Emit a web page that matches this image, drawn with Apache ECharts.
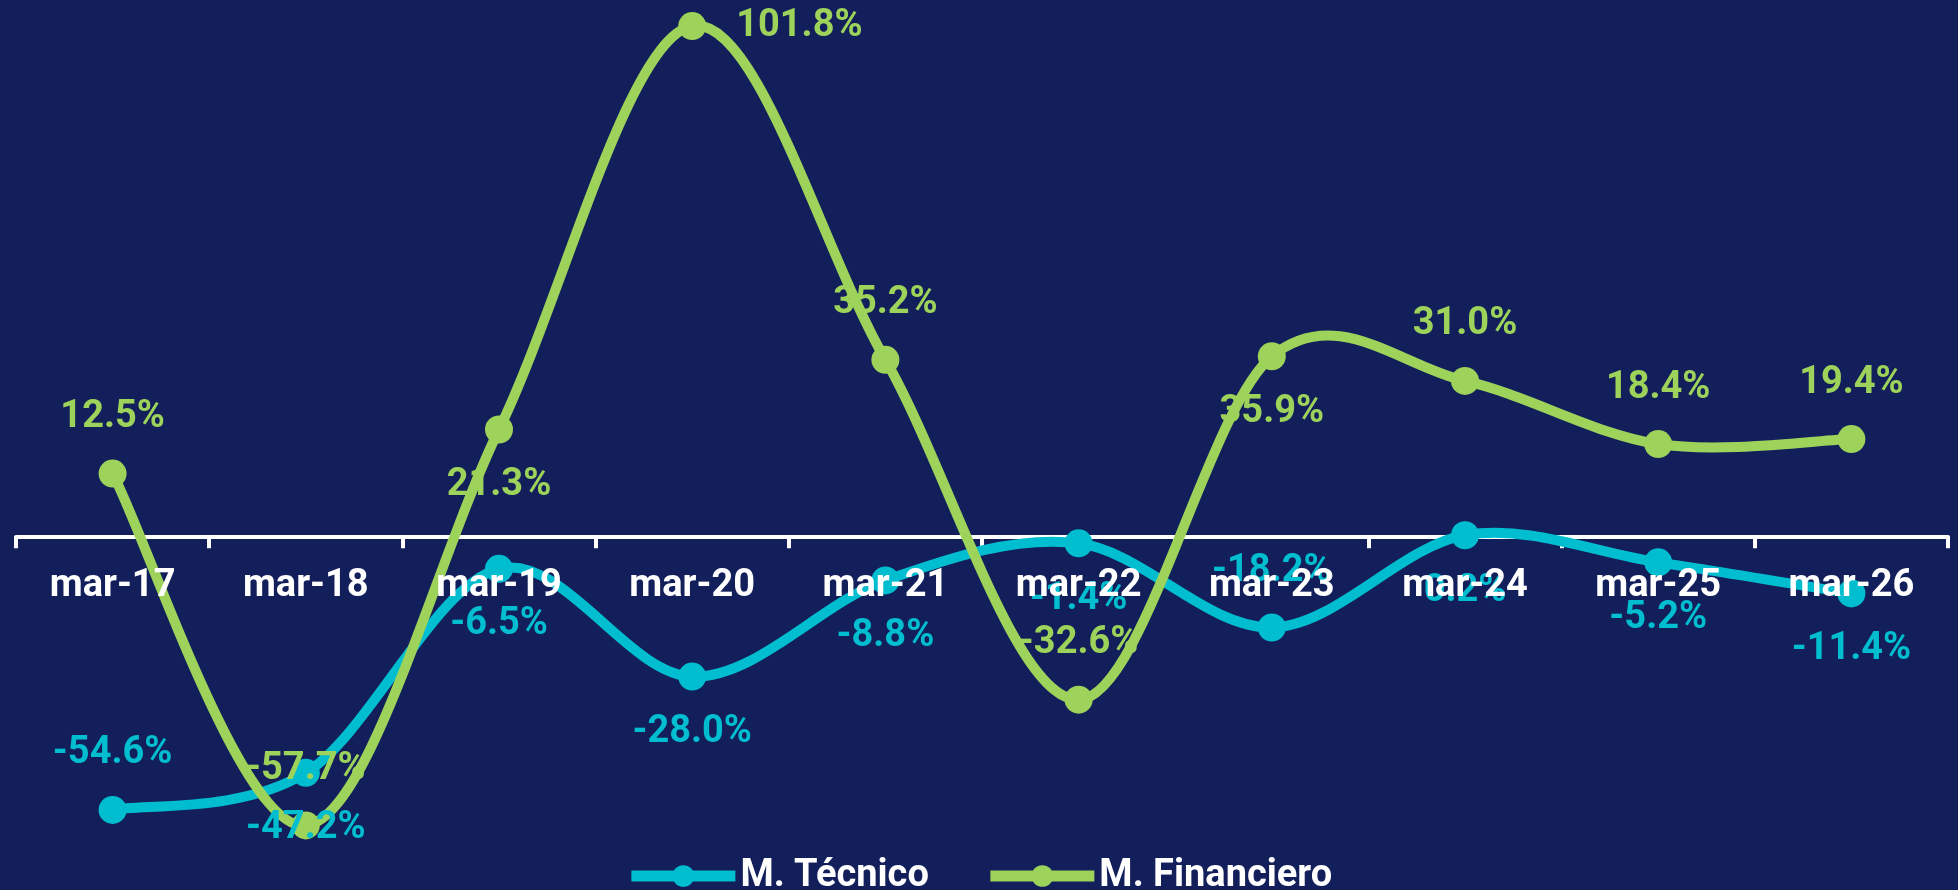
<!DOCTYPE html>
<html>
<head>
<meta charset="utf-8">
<script src="https://cdn.jsdelivr.net/npm/echarts@6/dist/echarts.min.js"></script>
<style>
html,body{margin:0;padding:0;background:#121F5A;}
#chart{width:1958px;height:890px;}
</style>
</head>
<body>
<div id="chart"></div>
<script>
const categories = ['mar-17','mar-18','mar-19','mar-20','mar-21','mar-22','mar-23','mar-24','mar-25','mar-26'];
const tecnico = [-54.6, -47.2, -6.5, -28.0, -8.8, -1.4, -18.2, 0.2, -5.2, -11.4];
const financiero = [12.5, -57.7, 21.3, 101.8, 35.2, -32.6, 35.9, 31.0, 18.4, 19.4];
const tecnicoLabelPos = ['top','bottom','bottom','bottom','bottom','bottom','top','bottom','bottom','bottom'];
const financieroLabelPos = ['top','top','bottom','right','top','top','bottom','top','top','top'];

const CYAN = '#00BED0';
const GREEN = '#9DD35A';
const FONT = 'Roboto';
const Y_MIN = -60, Y_MAX = 105;
const GRID_TOP = 10, GRID_BOTTOM = 53, H = 890;

function buildData(values, positions) {
  return values.map((v, i) => ({
    value: v,
    label: { position: positions[i], distance: positions[i] === 'right' ? 30 : 23 }
  }));
}

// Excel-like smoothed curve (Catmull-Rom style bezier) drawn through the axes' scales
function curveSeries(values, color) {
  const n = values.length;
  return {
    name: 'curve',
    type: 'custom',
    silent: true,
    z: 2,
    data: values.map((v, i) => [i, v]),
    encode: { x: 0, y: 1 },
    renderItem: function (params, api) {
      const i = params.dataIndexInside;
      if (i >= n - 1) return null;
      const pt = j => {
        j = Math.max(0, Math.min(n - 1, j));
        return api.coord([api.value(0, j), api.value(1, j)]);
      };
      const p0 = pt(i - 1), p1 = pt(i), p2 = pt(i + 1), p3 = pt(i + 2);
      const k = 1 / 6;
      return {
        type: 'bezierCurve',
        shape: {
          x1: p1[0], y1: p1[1],
          cpx1: p1[0] + (p2[0] - p0[0]) * k, cpy1: p1[1] + (p2[1] - p0[1]) * k,
          cpx2: p2[0] - (p3[0] - p1[0]) * k, cpy2: p2[1] - (p3[1] - p1[1]) * k,
          x2: p2[0], y2: p2[1]
        },
        style: { stroke: color, lineWidth: 10, fill: null, lineCap: 'round' }
      };
    }
  };
}

function pointSeries(name, values, positions, color) {
  return {
    name: name,
    type: 'line',
    smooth: false,
    z: 3,
    symbol: 'circle',
    symbolSize: 28,
    showAllSymbol: true,
    lineStyle: { width: 10, color: color, opacity: 0 },
    itemStyle: { color: color },
    label: {
      show: true,
      color: color,
      fontFamily: FONT,
      fontWeight: 'bold',
      fontSize: 38,
      formatter: p => p.value.toFixed(1) + '%'
    },
    data: buildData(values, positions)
  };
}

const gridH = H - GRID_TOP - GRID_BOTTOM;
const zeroY = GRID_TOP + gridH * Y_MAX / (Y_MAX - Y_MIN);
const axisOffset = zeroY - (H - GRID_BOTTOM);
const labelAxisOffset = -(zeroY - GRID_TOP);

const chart = echarts.init(document.getElementById('chart'), null, { renderer: 'canvas' });
chart.setOption({
  backgroundColor: '#121F5A',
  animation: false,
  grid: { left: 16, right: 10, top: GRID_TOP, bottom: GRID_BOTTOM, containLabel: false, outerBoundsMode: 'none' },
  xAxis: [{
    type: 'category',
    data: categories,
    boundaryGap: true,
    position: 'bottom',
    offset: axisOffset,
    z: 0,
    axisLine: { onZero: false, lineStyle: { color: '#FFFFFF', width: 4 } },
    axisTick: { show: true, length: 12, lineStyle: { color: '#FFFFFF', width: 4 } },
    axisLabel: { show: false },
    splitLine: { show: false }
  }, {
    type: 'category',
    data: categories,
    boundaryGap: true,
    position: 'top',
    offset: labelAxisOffset,
    z: 20,
    axisLine: { show: false, onZero: false },
    axisTick: { show: false },
    axisLabel: { show: true, inside: true, color: '#FFFFFF', fontFamily: FONT, fontWeight: 'bold', fontSize: 38, margin: 31 },
    splitLine: { show: false }
  }],
  yAxis: {
    type: 'value',
    min: Y_MIN,
    max: Y_MAX,
    show: false,
    splitLine: { show: false }
  },
  legend: {
    data: ['M. Técnico', 'M. Financiero'],
    top: 852,
    left: 'center',
    itemWidth: 104,
    itemHeight: 27,
    itemGap: 56,
    lineStyle: { width: 11, opacity: 1 },
    textStyle: { color: '#FFFFFF', fontFamily: FONT, fontWeight: 'bold', fontSize: 38 }
  },
  series: [
    curveSeries(tecnico, CYAN),
    pointSeries('M. Técnico', tecnico, tecnicoLabelPos, CYAN),
    curveSeries(financiero, GREEN),
    pointSeries('M. Financiero', financiero, financieroLabelPos, GREEN)
  ]
});
</script>
</body>
</html>
